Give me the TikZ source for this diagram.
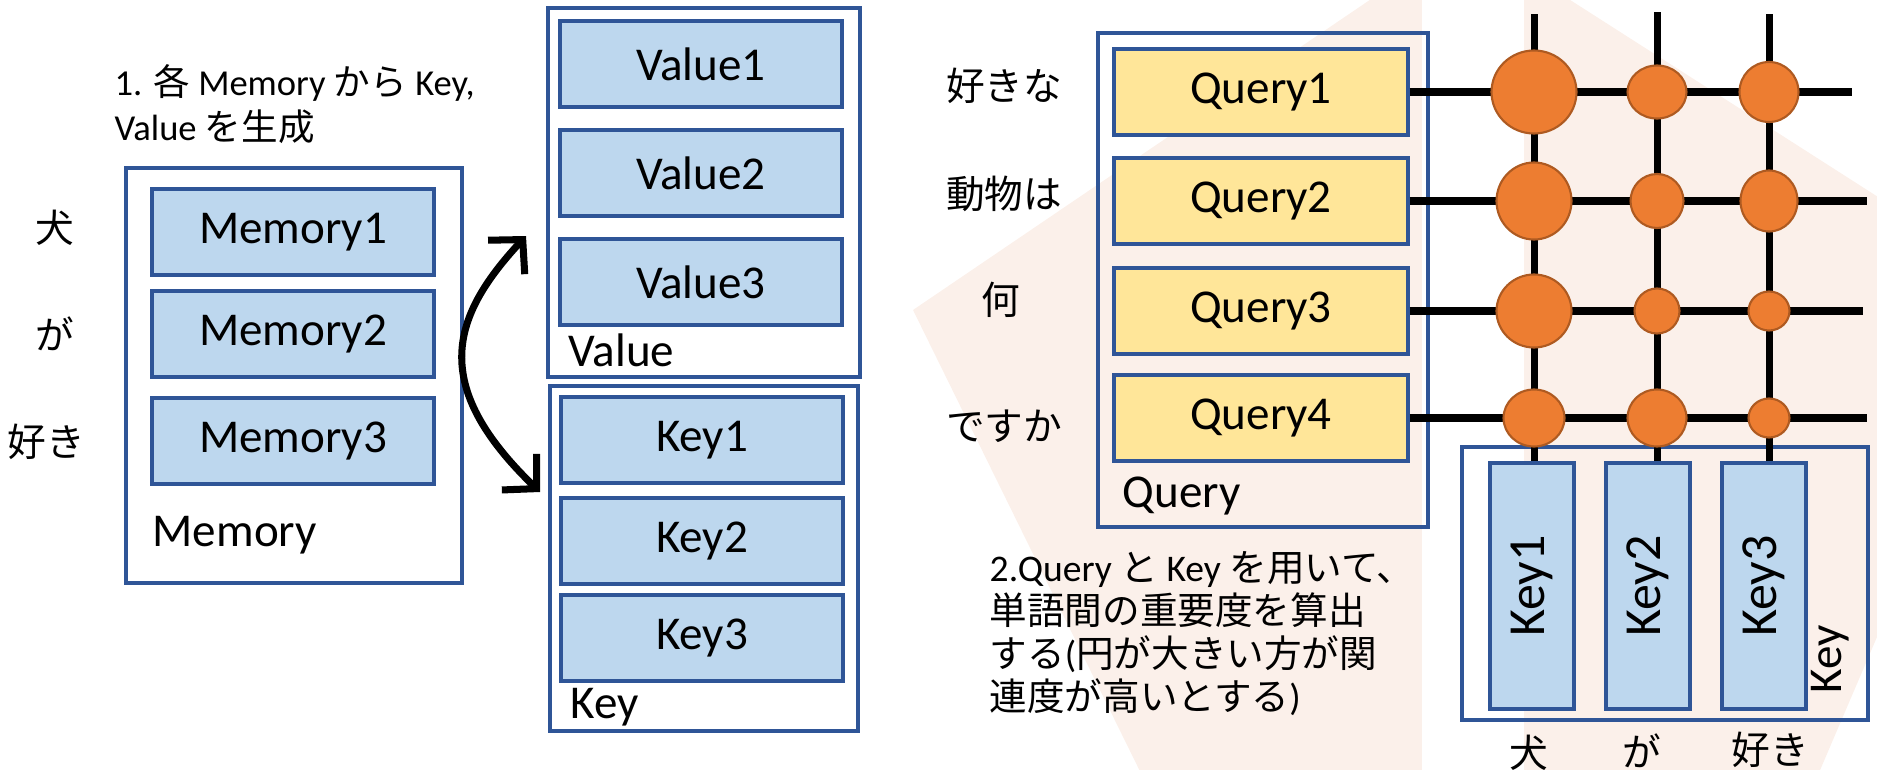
\documentclass[tikz,border=0pt]{standalone}
\usepackage{fontspec}
\setmainfont{Carlito}
\newfontfamily\jp{Noto Sans CJK JP}
\usetikzlibrary{arrows.meta,shapes.geometric}

\definecolor{boxblue}{RGB}{189,215,238}
\definecolor{edgeblue}{RGB}{47,85,151}
\definecolor{qyellow}{RGB}{255,230,153}
\definecolor{dotorange}{RGB}{237,125,49}
\definecolor{dotedge}{RGB}{174,90,33}
\definecolor{bgpink}{RGB}{251,240,234}

\begin{document}
\begin{tikzpicture}[x=0.1mm,y=-0.1mm,
        big/.style={font=\fontsize{13.4}{16}\selectfont},
        unit/.style={big,draw=edgeblue,line width=0.9pt,fill=boxblue,inner sep=0pt,minimum width=28.2mm,minimum height=8.6mm},
        query/.style={unit,fill=qyellow,minimum width=29.4mm},
        keycol/.style={unit,font=\fontsize{14.8}{17}\selectfont,minimum width=8.4mm,minimum height=24.6mm},
        groupbox/.style={draw=edgeblue,line width=0.9pt,inner sep=0pt},
        tag/.style={big,inner sep=0pt,anchor=west},
        word/.style={font=\jp\fontsize{11}{13}\selectfont,inner sep=0pt},
        note/.style={align=left,inner sep=0pt,anchor=north west},
        hit/.style={ellipse,draw=dotedge,line width=0.6pt,fill=dotorange,inner sep=0pt},
        wire/.style={line width=2pt},
        barb/.style={line width=2pt,{Straight Barb[length=2.4mm,width=5mm]}-{Straight Barb[length=2.4mm,width=5mm]}}]

    \useasboundingbox (0,0) rectangle (1877,770);

    % faint backdrop behind the score grid
    \begin{scope}
        \clip (0,0) rectangle (1877,770);
        \fill[bgpink] (1467,-66) -- (913,310) -- (1160,812) -- (1800,817) -- (2025,291) -- cycle;
    \end{scope}
    \fill[white] (1422,0) rectangle (1524,770);

    % step 1: memory -> key / value
    \node[note,font=\fontsize{10.4}{12.8}\selectfont] (step1) at (114,64)
        {1. {\jp 各} Memory {\jp から} Key,\\Value {\jp を生成}};

    \node[word] (w1) at (55,228) {犬};
    \node[word] (w2) at (55,334) {が};
    \node[word] (w3) at (46,442) {好き};

    \node[groupbox,minimum width=33.6mm,minimum height=41.5mm] (memgrp) at (294,375.5) {};
    \node[unit] (mem1) at (293,232) {Memory1};
    \node[unit] (mem2) at (293,334) {Memory2};
    \node[unit] (mem3) at (293,441) {Memory3};
    \node[tag] (memtag) at (152,535) {Memory};

    \node[groupbox,minimum width=31.2mm,minimum height=36.9mm] (valgrp) at (704,192.5) {};
    \node[unit] (val1) at (701,64) {Value1};
    \node[unit] (val2) at (701,173) {Value2};
    \node[unit] (val3) at (701,282) {Value3};
    \node[tag] (valtag) at (568,350) {Value};

    \node[groupbox,minimum width=30.8mm,minimum height=34.5mm] (keygrp) at (704,558.5) {};
    \node[unit] (key1) at (702,440) {Key1};
    \node[unit] (key2) at (702,541) {Key2};
    \node[unit] (key3) at (702,638) {Key3};
    \node[tag] (keytag) at (570,707) {Key};

    \coordinate (valin) at (526,236);
    \coordinate (keyin) at (540,492);
    \draw[barb] (valin) .. controls (452,316) and (428,384) .. (keyin);

    % step 2: query x key scores
    \node[word] (u1) at (1004,86) {好きな};
    \node[word] (u2) at (1004,194) {動物は};
    \node[word] (u3) at (1001,300) {何};
    \node[word] (u4) at (1004,426) {ですか};

    \node[groupbox,minimum width=33mm,minimum height=49.4mm] (qgrp) at (1263,280) {};
    \foreach \i/\y in {1/92,2/201,3/311,4/418}
        \node[query] (q\i) at (1261,\y) {Query\i};
    \node[tag] (qtag) at (1122,496) {Query};

    \node[groupbox,minimum width=40.6mm,minimum height=27.3mm] (kgrp) at (1665,583.5) {};
    \foreach \j/\x in {1/1532,2/1648,3/1764}
        \node[keycol] (k\j) at (\x,586) {\rotatebox{90}{Key\j}};
    \node[big,inner sep=0pt,rotate=90] (ktag) at (1830,659) {Key};

    \foreach \i/\x/\y in {1/1852/92,2/1867/201,3/1863/311,4/1867/418}
        \coordinate (re\i) at (\x,\y);
    \foreach \j/\x/\y in {1/1534/14,2/1657/12,3/1769/14}
        \coordinate (ct\j) at (\x,\y);

    \foreach \i in {1,...,4}
        \draw[wire] (q\i.east) -- (re\i);
    \foreach \j in {1,2,3}
        \draw[wire] (ct\j) -- (ct\j |- k\j.north);

    % bigger circle = stronger relation
    \foreach \i/\j/\w/\h in {1/1/8.5/8.3,1/2/5.9/5.3,1/3/5.9/6.0,
                             2/1/7.5/7.7,2/2/5.3/5.4,2/3/5.7/6.1,
                             3/1/7.5/7.3,3/2/4.5/4.5,3/3/4.1/3.9,
                             4/1/6.1/5.7,4/2/5.9/5.7,4/3/4.1/3.9}
        \node[hit,minimum width=\w mm,minimum height=\h mm] (c\i\j) at (ct\j |- re\i) {};

    \node[word] (v1) at (1529,753) {犬};
    \node[word] (v2) at (1642,751) {が};
    \node[word] (v3) at (1770,750) {好き};

    \node[note,font=\fontsize{10.7}{12.2}\selectfont] (step2) at (989,551)
        {2.Query {\jp と} Key {\jp を用いて、}\\{\jp 単語間の重要度を算出}\\{\jp する}({\jp 円が大きい方が関}\\{\jp 連度が高いとする})};
\end{tikzpicture}
\end{document}
